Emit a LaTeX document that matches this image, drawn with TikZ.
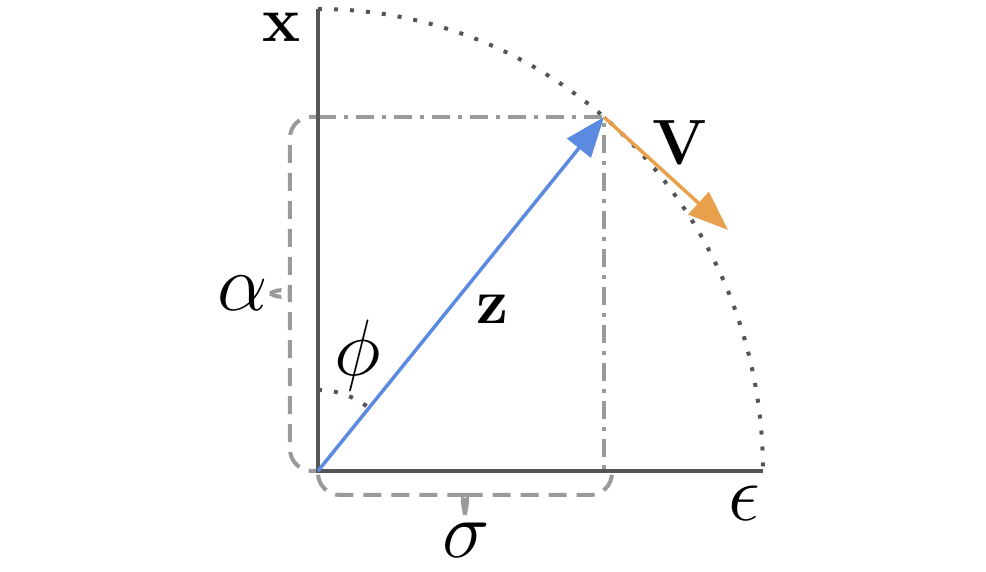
\RequirePackage{fix-cm}
\documentclass[tikz,border=0pt]{standalone}
\usetikzlibrary{arrows.meta}
\definecolor{axisgray}{HTML}{555555}
\definecolor{guidegray}{HTML}{9A9A9A}
\definecolor{zblue}{HTML}{5B8AE0}
\definecolor{vorange}{HTML}{E9A04C}

\begin{document}
\begin{tikzpicture}[x=50pt, y=50pt,
    lbl/.style={inner sep=0pt, font=\fontsize{32}{36}\selectfont},
    glbl/.style={inner sep=0pt, font=\fontsize{40}{44}\selectfont},
    dotline/.style={axisgray, line width=2pt, dash pattern=on 2pt off 6pt},
    guide/.style={guidegray, line width=2pt, dash pattern=on 9pt off 4pt on 2pt off 4pt},
    brc/.style={guidegray, line width=2pt, rounded corners=11pt,
      dash pattern=on 9pt off 5pt, dash phase=3pt},
    tip/.style={-{Triangle[length=20pt, width=15pt]}}]
        \useasboundingbox (-3.18, -1.01) rectangle (6.68, 4.71);
        \coordinate (O) at (0, 0);
        \coordinate (Xtop) at (0, 4.62);
        \coordinate (Eend) at (4.45, 0);
        \coordinate (Z) at (50:4.45 and 4.62);
        \coordinate (Sg) at (2.94, 0);
        \coordinate (Vend) at (4.10, 2.41);
        \coordinate (ca) at (-0.48, 1.775);
        \coordinate (cs) at (1.47, -0.44);
        % guides and brackets
        \draw[guide] (Z -| O) -- (Z) -- (Z |- O);
        \draw[brc] (ca) .. controls (-0.38, 1.83) and (-0.28, 1.82) .. (-0.28, 1.94)
          -- (-0.28, 3.55) -- (Z -| O);
        \draw[brc] (ca) .. controls (-0.38, 1.72) and (-0.28, 1.73) .. (-0.28, 1.61)
          -- (-0.28, 0) -- (O);
        \draw[brc, dash phase=0pt] (cs) .. controls (1.49, -0.30) and (1.52, -0.24) .. (1.65, -0.24)
          -- (2.94, -0.24) -- (Sg);
        \draw[brc, dash phase=0pt] (cs) .. controls (1.45, -0.30) and (1.42, -0.24) .. (1.29, -0.24)
          -- (0, -0.24) -- (O);
        % circle and axes
        \draw[dotline] (Xtop) arc[start angle=90, end angle=0, x radius=4.45, y radius=4.62];
        \draw[dotline] (0, 0.81) arc[start angle=90, end angle=50, radius=0.81];
        \draw[axisgray, line width=1.75pt] (Xtop) -- (O) -- (Eend);
        % vectors
        \draw[zblue, line width=1.75pt, tip] (O) -- (Z);
        \draw[vorange, line width=1.75pt, tip] (Z) -- (Vend);
        \node[lbl] (x) at (-0.36, 4.44) {$\mathbf{x}$};
        \node[lbl] (v) at (3.62, 3.28) {$\mathbf{V}$};
        \node[lbl] (z) at (1.74, 1.62) {$\mathbf{z}$};
        \node[glbl] (alpha) at (-0.75, 1.78) {$\alpha$};
        \node[glbl] (phi) at (0.40, 1.15) {$\phi$};
        \node[glbl] (sigma) at (1.48, -0.69) {$\sigma$};
        \node[glbl] (eps) at (4.26, -0.32) {$\epsilon$};
      \end{tikzpicture}
\end{document}
